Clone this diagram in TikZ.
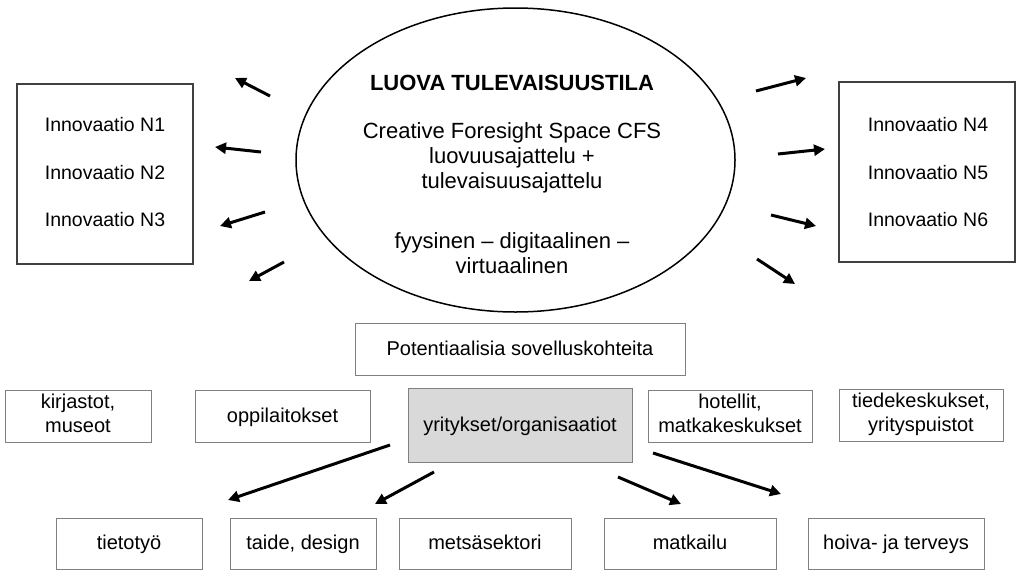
\documentclass[tikz,border=0pt]{standalone}
\usepackage{fontspec}
\setmainfont{Liberation Sans}
\usetikzlibrary{arrows.meta,shapes.geometric}
\definecolor{boxgray}{HTML}{808080}
\definecolor{innogray}{HTML}{404040}
\definecolor{fillgray}{HTML}{D9D9D9}
\newcommand{\boxstrut}{\rule[-5pt]{0pt}{22pt}}
\tikzset{
  smallbox/.style={draw=boxgray,line width=1pt,fill=white,inner sep=0pt,align=center,
    font=\fontsize{20}{24}\selectfont,
    execute at begin node={\boxstrut}, execute at end node={\boxstrut}},
  innobox/.style={draw=innogray,line width=1.2pt,inner sep=0pt},
  innotext/.style={font=\fontsize{19.5}{22}\selectfont,inner sep=0pt},
  elltext/.style={font=\fontsize{22}{25}\selectfont,align=center,inner sep=0pt},
  bigarrow/.style={line width=3pt,-{Triangle[length=11pt,width=11pt]}},
}
\begin{document}
\begin{tikzpicture}[x=1pt,y=-1pt]
\useasboundingbox (0,0) rectangle (1017,571);
% ellipse
\node[ellipse,draw=black,line width=1.5pt,minimum width=439pt,minimum height=304pt,inner sep=0pt] (ell) at (515.5,160) {};
\node[elltext,font=\fontsize{22}{25}\selectfont\bfseries] (title) at (512,83) {LUOVA TULEVAISUUSTILA};
\node[elltext] (cfs) at (512,158) {Creative Foresight Space CFS\\luovuusajattelu +\\tulevaisuusajattelu};
\node[elltext] (fdv) at (512,253) {fyysinen -- digitaalinen --\\virtuaalinen};
% innovation boxes
\node[innobox,minimum width=176pt,minimum height=180pt] (lbox) at (105,174) {};
\node[innotext] (n1) at (105,125) {Innovaatio N1};
\node[innotext] (n2) at (105,172.5) {Innovaatio N2};
\node[innotext] (n3) at (105,220) {Innovaatio N3};
\node[innobox,minimum width=176pt,minimum height=180pt] (rbox) at (927,172) {};
\node[innotext] (n4) at (928,125) {Innovaatio N4};
\node[innotext] (n5) at (928,172.5) {Innovaatio N5};
\node[innotext] (n6) at (928,220) {Innovaatio N6};
% radiating arrows
\coordinate (a1s) at (270,96);  \coordinate (a1e) at (235,78);
\coordinate (a2s) at (261,152); \coordinate (a2e) at (215,147);
\coordinate (a3s) at (265,212); \coordinate (a3e) at (220,226);
\coordinate (a4s) at (284,262); \coordinate (a4e) at (249,281);
\coordinate (b1s) at (756,91);  \coordinate (b1e) at (806,78);
\coordinate (b2s) at (778,154); \coordinate (b2e) at (825,149);
\coordinate (b3s) at (771,215); \coordinate (b3e) at (816,226);
\coordinate (b4s) at (757,259); \coordinate (b4e) at (795,284);
\foreach \a in {a1,a2,a3,a4,b1,b2,b3,b4}{\draw[bigarrow] (\a s) -- (\a e);}
% middle row
\node[smallbox,minimum width=330pt,minimum height=52pt] (pot) at (520,349) {Potentiaalisia sovelluskohteita};
\node[smallbox,minimum width=146pt,minimum height=52pt] (kir) at (78,416) {kirjastot,\\museot};
\node[smallbox,minimum width=175pt,minimum height=52pt] (opp) at (282.5,416) {oppilaitokset};
\node[smallbox,fill=fillgray,minimum width=224pt,minimum height=74pt] (yri) at (520,425) {yritykset/organisaatiot};
\node[smallbox,minimum width=164pt,minimum height=52pt] (hot) at (730,416) {hotellit,\\matkakeskukset};
\node[smallbox,minimum width=164pt,minimum height=52pt] (tie) at (921,415) {tiedekeskukset,\\yrityspuistot};
% bottom row
\node[smallbox,minimum width=146pt,minimum height=51pt] (tiet) at (129,543.5) {tietotyö};
\node[smallbox,minimum width=146pt,minimum height=51pt] (tai) at (303,543.5) {taide, design};
\node[smallbox,minimum width=172pt,minimum height=51pt] (met) at (485,543.5) {metsäsektori};
\node[smallbox,minimum width=172pt,minimum height=51pt] (mat) at (690,543.5) {matkailu};
\node[smallbox,minimum width=176pt,minimum height=51pt] (hoi) at (896,543.5) {hoiva- ja terveys};
% arrows from yritykset
\coordinate (c1s) at (390,445); \coordinate (c1e) at (228,500);
\coordinate (c2s) at (434,472); \coordinate (c2e) at (375,504);
\coordinate (c3s) at (618,477); \coordinate (c3e) at (681,504);
\coordinate (c4s) at (653,453); \coordinate (c4e) at (781,494);
\foreach \c in {c1,c2,c3,c4}{\draw[bigarrow] (\c s) -- (\c e);}
\end{tikzpicture}
\end{document}
